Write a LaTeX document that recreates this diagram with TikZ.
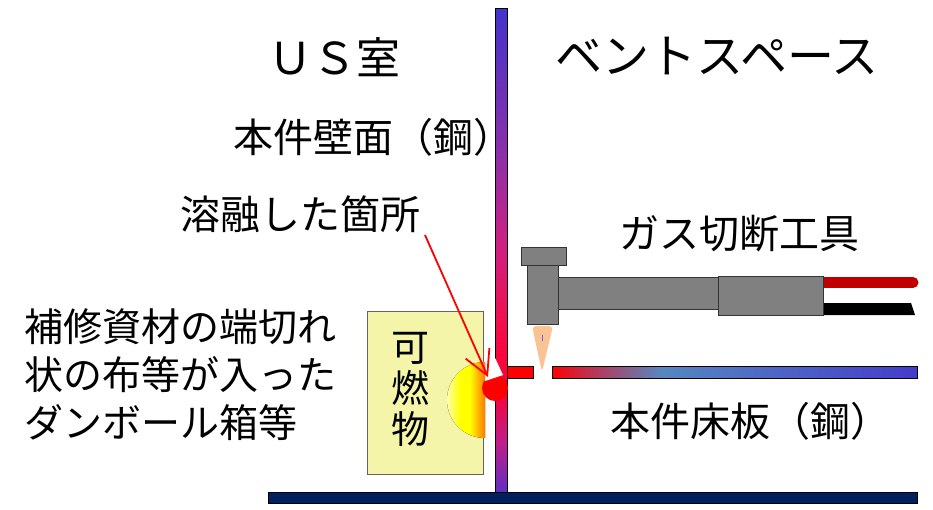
\documentclass[tikz,border=0pt]{standalone}
\usepackage{fontspec}
\setmainfont{Noto Sans CJK JP}
\usepackage{tikz}
\usetikzlibrary{arrows.meta,positioning}
\definecolor{fond}{RGB}{244,245,168}
\definecolor{bord}{RGB}{100,100,90}
\definecolor{marine}{RGB}{0,32,96}
\definecolor{acier}{RGB}{128,128,128}
\definecolor{tuyau}{RGB}{192,0,0}
\definecolor{jet}{RGB}{250,195,148}
\definecolor{murbas}{RGB}{96,48,192}
\definecolor{murmag}{RGB}{190,30,140}
\definecolor{murrouge}{RGB}{255,0,48}
\definecolor{murrose}{RGB}{240,16,80}
\definecolor{murmilieu}{RGB}{208,32,128}
\definecolor{murviolet}{RGB}{140,48,170}
\definecolor{murhaut}{RGB}{68,51,204}
\definecolor{solrouge}{RGB}{255,0,0}
\definecolor{solmauve}{RGB}{192,48,80}
\definecolor{solbleu}{RGB}{85,136,192}
\definecolor{solfin}{RGB}{68,60,204}
\definecolor{feupale}{RGB}{255,255,170}
\definecolor{feuorange}{RGB}{255,120,0}
\pgfdeclareverticalshading{mur}{100bp}{color(0bp)=(murbas); color(25bp)=(murbas);
  color(30bp)=(murmag); color(36bp)=(murrouge); color(43bp)=(murrose);
  color(50bp)=(murmilieu); color(60bp)=(murviolet); color(75bp)=(murhaut); color(100bp)=(murhaut)}
\pgfdeclarehorizontalshading{plancher}{100bp}{color(0bp)=(solrouge); color(25bp)=(solrouge);
  color(30bp)=(solmauve); color(40bp)=(solbleu); color(75bp)=(solfin); color(100bp)=(solfin)}
\pgfdeclarehorizontalshading{feu}{100bp}{color(0bp)=(feupale); color(25bp)=(feupale);
  color(42bp)=(yellow); color(55bp)=(yellow); color(75bp)=(feuorange); color(100bp)=(feuorange)}

\begin{document}
\begin{tikzpicture}[x=1pt,y=-1pt,
    txt/.style={inner sep=0pt,font=\fontsize{#1}{#1}\selectfont},
    plaque/.style={draw=black,line width=1pt},
    outil/.style={draw=black!80,fill=acier,line width=1pt}]
	\useasboundingbox (0,0) rectangle (933,509);
	\draw[plaque,shading=mur] (495,8) rectangle (507,492);
	\draw[plaque,fill=marine] (268,492) rectangle (917,503);
	\draw[plaque,fill=solrouge] (507,366) rectangle (533,378);
	\draw[plaque,shading=plancher] (552,366) rectangle (917,378);
	\draw[fill=fond,draw=bord] (367,311) rectangle (483,474);
	\fill[shading=feu] (485,438) arc[start angle=90,end angle=270,radius=38] -- cycle;
	\fill[solrouge] (495,388) circle[radius=13];
	\fill[white] (490,347) -- (503,375) -- (485,381) -- cycle;
	\fill[tuyau] (823,277) rectangle (913,288);
	\fill[tuyau] (913,282.5) circle[radius=5.5];
	\fill[black] (823,303) -- (911,303) -- (915,315) -- (823,315) -- cycle;
	\draw[outil] (558,277) rectangle (718,309);
	\draw[outil] (718,276) rectangle (823,315);
	\draw[outil] (527,265) rectangle (558,324);
	\draw[outil] (521,247) rectangle (566,265);
	\fill[jet,rounded corners=4pt] (532,326) -- (553,326) -- (542,372) -- cycle;
	\draw[blue!60,line width=1pt] (542,335) -- (542,341);
	\node[txt=44] (us) at (334,57) {ＵＳ室};
	\node[txt=47] (vent) at (717,56) {ベントスペース};
	\node[txt=40] (mur) at (373,137) {本件壁面（鋼）};
	\node[txt=40] (fondu) at (300,214) {溶融した箇所};
	\node[txt=40] (outil) at (739,234) {ガス切断工具};
	\node[txt=40] (sol) at (750,421) {本件床板（鋼）};
	\node[txt=39,align=left,anchor=west,font=\fontsize{39}{48}\selectfont] (carton) at (24,375) {補修資材の端切れ\\状の布等が入った\\ダンボール箱等};
	\node[txt=38,align=center,font=\fontsize{38}{41}\selectfont] (comb) at (410,389) {可\\燃\\物};
	\coordinate (depart) at (425,235);
	\coordinate (trou) at (488,377);
	\draw[red,line width=1.8pt,-{Straight Barb[length=24pt,width=26pt]}] (depart) -- (trou);
\end{tikzpicture}
\end{document}
